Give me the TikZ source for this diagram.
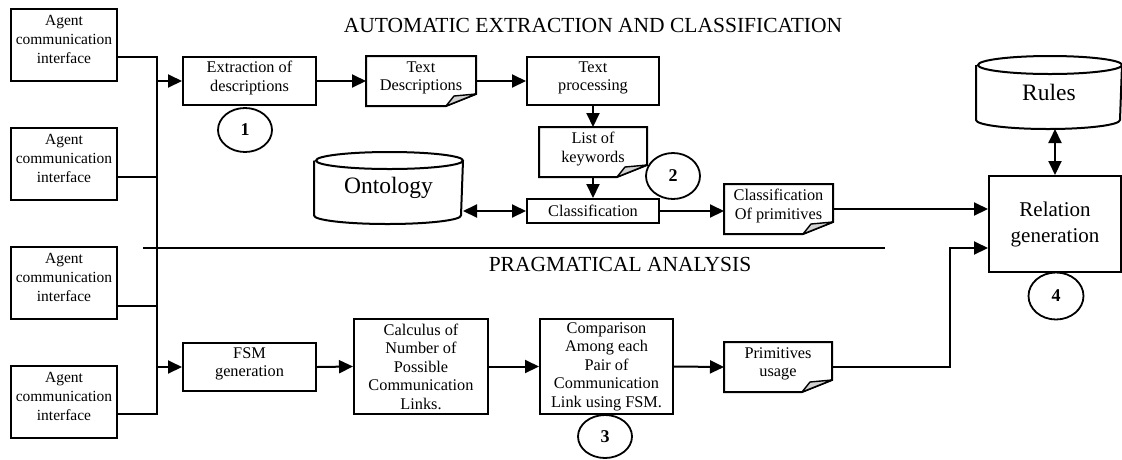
\documentclass[tikz,border=0pt]{standalone}
\usepackage{fontspec}
\setmainfont{Liberation Serif}
\usetikzlibrary{arrows.meta,shapes.geometric}
\newcommand\docout[1]{%
  \draw[line width=2pt, line join=miter] (#1.north west) -- (#1.north east) -- ([yshift=12pt]#1.south east) -- ([xshift=-30pt]#1.south east) -- (#1.south west) -- cycle;
  \filldraw[line width=1.4pt, fill=gray!35, line join=round] ([xshift=-30pt]#1.south east) -- ([xshift=-22pt,yshift=10pt]#1.south east) -- ([yshift=12pt]#1.south east) -- cycle;}
\newcommand\cylout[3]{%
  \draw[line width=2pt] ([yshift=-#3]#1.north west) -- ([yshift=#3]#1.south west)
    arc[start angle=180, end angle=360, x radius=#2, y radius=#3]
    -- ([yshift=-#3]#1.north east)
    arc[start angle=0, end angle=360, x radius=#2, y radius=#3];}
\begin{document}
\begin{tikzpicture}[x=1pt,y=-1pt,
  line width=2pt,
  box/.style={draw, rectangle, line width=2pt, align=center, inner sep=0pt, font=\fontsize{16.3}{18.5}\selectfont},
  twoline/.style={text depth=9.5pt},
  agent/.style={box, minimum width=106pt, minimum height=72pt, text depth=12pt, font=\fontsize{15.5}{19}\selectfont},
  docnode/.style={rectangle, align=center, inner sep=0pt, text depth=9.5pt, font=\fontsize{16.3}{18.5}\selectfont},
  cylnode/.style={rectangle, inner sep=0pt, font=\fontsize{23.5}{28}\selectfont},
  num/.style={draw, ellipse, line width=1.8pt, inner sep=0pt, font=\fontsize{18}{20}\selectfont\bfseries},
  arr/.style={-{Triangle[length=14pt,width=13pt]}},
  darr/.style={{Triangle[length=14pt,width=13pt]}-{Triangle[length=14pt,width=13pt]}},
  heading/.style={font=\fontsize{21.5}{24}\selectfont, inner sep=0pt}
]
\useasboundingbox (0,0) rectangle (1122,459);

% headings
\node[heading] (h1) at (593,25) {AUTOMATIC EXTRACTION AND CLASSIFICATION};
\node[heading] (h2) at (620,264) {PRAGMATICAL ANALYSIS};

% agents
\node[agent] (ag1) at (64,45) {Agent\\communication\\interface};
\node[agent] (ag2) at (64,164) {Agent\\communication\\interface};
\node[agent] (ag3) at (64,283) {Agent\\communication\\interface};
\node[agent] (ag4) at (64,402) {Agent\\communication\\interface};

% bus
\coordinate (bt) at (157,57);
\coordinate (b2) at (157,177);
\coordinate (b3) at (157,306);
\coordinate (bb) at (157,414);

% upper flow
\node[box, twoline, minimum width=133pt, minimum height=48pt] (ext) at (249.5,81) {Extraction of\\descriptions};
\node[docnode, minimum width=108pt, minimum height=48pt] (td) at (421,81) {Text\\Descriptions};
\node[box, twoline, minimum width=132pt, minimum height=48pt] (tp) at (593,81) {Text\\processing};
\node[docnode, minimum width=106pt, minimum height=48pt] (kw) at (593,152) {List of\\keywords};
\node[box, minimum width=132pt, minimum height=24pt] (cls) at (593,211) {Classification};
\node[cylnode, minimum width=147pt, minimum height=70pt] (onto) at (388.5,188) {Ontology};
\node[docnode, minimum width=107pt, minimum height=48pt] (cp) at (778.5,209) {Classification\\Of primitives};
\node[cylnode, minimum width=144pt, minimum height=71pt] (rules) at (1049,92.5) {Rules};
\node[box, minimum width=132pt, minimum height=96pt, font=\fontsize{21}{26}\selectfont] (rel) at (1055,224) {Relation\\generation};

% lower flow
\node[box, twoline, minimum width=133pt, minimum height=48pt] (fsm) at (249.5,367) {FSM\\generation};
\node[box, minimum width=134pt, minimum height=95pt] (calc) at (421,366.5) {Calculus of\\Number of\\Possible\\Communication\\Links.};
\node[box, minimum width=133pt, minimum height=95pt] (cmp) at (606.5,366.5) {Comparison\\Among each\\Pair of\\Communication\\Link using FSM.};
\node[docnode, minimum width=106pt, minimum height=48pt] (pu) at (778,367) {Primitives\\usage};

% outlines of special shapes
\docout{td}
\docout{kw}
\docout{cp}
\docout{pu}
\cylout{onto}{73.5pt}{8.5pt}
\cylout{rules}{72pt}{9pt}

% numbered circles
\node[num, minimum width=54pt, minimum height=44pt] (n1) at (245,130) {1};
\node[num, minimum width=54pt, minimum height=46pt] (n2) at (673,176) {2};
\node[num, minimum width=54pt, minimum height=43pt] (n3) at (605,436.5) {3};
\node[num, minimum width=55pt, minimum height=47pt] (n4) at (1056,296) {4};

% separator
\coordinate (s1) at (143,248);
\coordinate (s2) at (885,248);
\draw (s1) -- (s2);

% bus connections
\draw (ag1.east |- bt) -- (bt) -- (bb) -- (ag4.east |- bb);
\draw (ag2.east |- b2) -- (b2);
\draw (ag3.east |- b3) -- (b3);
\draw[arr] (bt |- ext.west) -- (ext.west);
\draw[arr] (bt |- fsm.west) -- (fsm.west);

% upper arrows
\draw[arr] (ext.east) -- (td.west);
\draw[arr] (td.east) -- (tp.west);
\draw[arr] (tp.south) -- (kw.north);
\draw[arr] (kw.south) -- (cls.north);
\draw[darr] (onto.east |- cls.west) -- (cls.west);
\draw[arr] (cls.east) -- (cls.east -| cp.west);
\draw[arr] (cp.east) -- (cp.east -| rel.west);
\draw[darr] (rel.north |- rules.south) -- (rel.north);

% lower arrows
\draw[arr] (fsm.east) -- (calc.west);
\draw[arr] (calc.east) -- (cmp.west);
\draw[arr] (cmp.east) -- (pu.west);
\coordinate (k) at (950,248);
\draw[arr] (pu.east) -| (k) -- (k -| rel.west);
\end{tikzpicture}
\end{document}
